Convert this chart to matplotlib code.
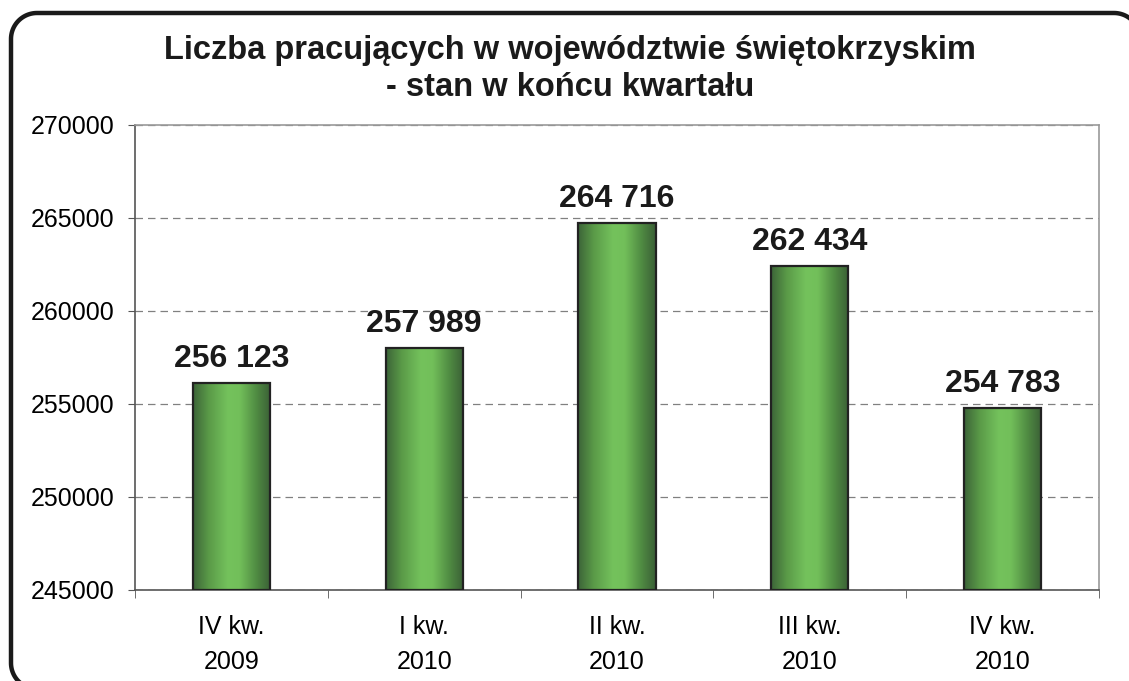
import numpy as np
import matplotlib.pyplot as plt
from matplotlib.lines import Line2D
from matplotlib.colors import LinearSegmentedColormap
from matplotlib.transforms import IdentityTransform

plt.rcParams['font.family'] = ['Liberation Sans', 'DejaVu Sans']

quarters = ["IV kw.\n2009", "I kw.\n2010", "II kw.\n2010", "III kw.\n2010", "IV kw.\n2010"]
employed = [256123, 257989, 264716, 262434, 254783]
y_ticks = [245000, 250000, 255000, 260000, 265000, 270000]
title = "Liczba pracujących w województwie świętokrzyskim\n- stan w końcu kwartału"

W, H = 1129, 681
fig = plt.figure(figsize=(W / 100, H / 100), dpi=100)

# rounded frame, drawn in pixels (origin bottom-left); right and bottom edges run off the canvas
r = 26
left, right, top, bottom = 11, 1140, H - 13, -8
t0 = np.linspace(1.5 * np.pi, np.pi, 30)
t1 = np.linspace(np.pi, np.pi / 2, 30)
t2 = np.linspace(np.pi / 2, 0, 30)
fx = np.concatenate([[200], left + r + r * np.cos(t0), left + r + r * np.cos(t1),
                     right - r + r * np.cos(t2), [right]])
fy = np.concatenate([[bottom], bottom + r + r * np.sin(t0), top - r + r * np.sin(t1),
                     top - r + r * np.sin(t2), [-50]])
fig.add_artist(Line2D(fx, fy, transform=IdentityTransform(), color='#1a1a1a',
                      linewidth=3.2, solid_joinstyle='round'))

ax = fig.add_axes([135 / W, 1 - 590 / H, (1099 - 135) / W, (590 - 125) / H])

x = np.arange(len(quarters))
bar_w = 0.4
cmap = LinearSegmentedColormap.from_list(
    "bar", [(0.0, '#3c6438'), (0.2, '#5a9a48'), (0.45, '#74c25c'),
            (0.6, '#72bf5a'), (0.82, '#4f8a42'), (1.0, '#3a5f36')])
grad = np.linspace(0, 1, 256).reshape(1, -1)

ymin, ymax = 245000, 270000
bars = ax.bar(x, np.array(employed) - ymin, bottom=ymin, width=bar_w,
              color='none', edgecolor='#222222', linewidth=1.6, zorder=3)
for b, v in zip(bars, employed):
    im = ax.imshow(grad, cmap=cmap, aspect='auto', zorder=2,
                   extent=[b.get_x(), b.get_x() + b.get_width(), ymin, v])
    im.set_clip_path(b)
    ax.annotate(f"{v:,}".replace(",", " "), (b.get_x() + b.get_width() / 2, v),
                xytext=(0, 6.5), textcoords='offset points',
                ha='center', va='bottom', fontsize=23, fontweight='bold',
                color='#1a1a1a')

ax.set_xlim(-0.5, len(quarters) - 0.5)
ax.set_ylim(ymin, ymax)
ax.set_yticks(y_ticks)
ax.set_yticklabels([str(t) for t in y_ticks])
ax.yaxis.grid(True, linestyle=(0, (6, 4)), color='#808080', linewidth=0.9)
ax.set_axisbelow(True)

ax.set_xticks(x)
ax.set_xticklabels(quarters, linespacing=1.6)
ax.set_xticks(np.arange(len(quarters) + 1) - 0.5, minor=True)
ax.tick_params(axis='x', which='major', length=0, pad=18, labelsize=18)
ax.tick_params(axis='x', which='minor', length=6, color='#555555', direction='out')
ax.tick_params(axis='y', length=5, color='#555555', labelsize=18, pad=10)

for s in ['left', 'bottom']:
    ax.spines[s].set_color('#555555')
    ax.spines[s].set_linewidth(1.2)
for s in ['top', 'right']:
    ax.spines[s].set_color('#9a9a9a')
    ax.spines[s].set_linewidth(1.2)

fig.text(570 / W, 1 - 69 / H, title, ha='center', va='center',
         fontsize=23.5, fontweight='bold', linespacing=1.25, color='#1a1a1a')

fig.savefig("out.png", dpi=100)
